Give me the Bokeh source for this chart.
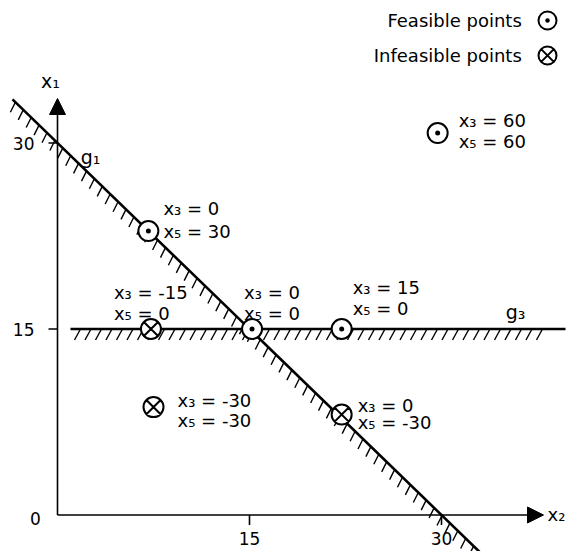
import numpy as np
from bokeh.plotting import figure
from bokeh.models import Arrow, NormalHead
from bokeh.core.properties import value
from bokeh.embed import file_html
from bokeh.resources import INLINE

# ---- data ----
feasible_x2 = [7.1, 15.2, 22.2, 29.7]
feasible_x1 = [22.9, 15.0, 15.0, 30.8]
feasible_x3 = [0, 0, 15, 60]
feasible_x5 = [30, 0, 0, 60]

infeasible_x2 = [7.3, 7.5, 22.2]
infeasible_x1 = [15.0, 8.7, 8.1]
infeasible_x3 = [-15, -30, 0]
infeasible_x5 = [0, -30, -30]

g1_rhs = 30          # x1 + x2 = 30
g3_rhs = 15          # x1 = 15
tick_values = [15, 30]
tick_labels = ["15", "30"]

# ---- layout ----
SX, SY = 12.8, 12.4   # px per unit
OX, OY = 57, 514.5    # pixel position of origin
FONT = value("DejaVu Sans")
W, H = 569, 551
x0, x1r = -OX / SX, (W - OX) / SX
y0, y1r = (OY - H) / SY, OY / SY

def px(x, y):
    """page pixel -> data coords (layout helper)"""
    return (x - OX) / SX, (OY - y) / SY

def dpx(dx, dy):
    return dx / SX, -dy / SY

p = figure(width=W, height=H, output_backend="svg", toolbar_location=None,
           x_range=(x0, x1r), y_range=(y0, y1r),
           x_axis_location=None, y_axis_location=None, min_border=0)
p.grid.visible = False
p.outline_line_color = None
p.background_fill_color = "white"

# axes with arrows
_, ytip = px(0, 98)
xtip, _ = px(543, 0)
p.add_layout(Arrow(end=NormalHead(size=16, fill_color="black", line_color="black"),
                   x_start=0, y_start=0, x_end=0, y_end=ytip, line_width=1.6))
p.add_layout(Arrow(end=NormalHead(size=16, fill_color="black", line_color="black"),
                   x_start=0, y_start=0, x_end=xtip, y_end=0, line_width=1.6))

# ticks
tdx, _ = dpx(-9, 0)
p.segment(x0=[tdx]*2, y0=tick_values, x1=[0]*2, y1=tick_values, line_color="black", line_width=1.6)
_, tdy = dpx(0, 10)
p.segment(x0=tick_values, y0=[0]*2, x1=tick_values, y1=[tdy]*2, line_color="black", line_width=1.6)

# tick labels
lx, _ = dpx(-23, 0)
p.text(x=[lx]*2, y=tick_values, text=tick_labels, text_align="right", text_baseline="middle",
       text_font=FONT, text_font_size="17px")
_, ly = dpx(0, 23)
p.text(x=tick_values, y=[ly]*2, text=tick_labels, text_align="center", text_baseline="middle",
       text_font=FONT, text_font_size="17px")
ox, oy = px(35, 518)
p.text(x=[ox], y=[oy], text=["0"], text_align="center", text_baseline="middle",
       text_font=FONT, text_font_size="17px")

# axis labels
ax, ay = px(50, 80)
p.text(x=[ax], y=[ay], text=["x₁"], text_align="center", text_baseline="middle",
       text_font=FONT, text_font_size="19px")
ax, ay = px(547, 514)
p.text(x=[ax], y=[ay], text=["x₂"], text_align="left", text_baseline="middle",
       text_font=FONT, text_font_size="18px")

# constraint g1: x1 = 30 - x2
g1_x = np.array([px(12, 0)[0], 36.0])
p.line(g1_x, g1_rhs - g1_x, line_color="black", line_width=2.6)
d = np.array([1.0 * SX, -1.0 * SY])
step_px = 11.0
L = np.hypot(*d)
t = np.arange(4, (g1_x[1] - g1_x[0]) * L + 1, step_px) / L
hx = g1_x[0] + t
hy = g1_rhs - hx
hdx, hdy = dpx(-5, 10)
p.segment(x0=hx, y0=hy, x1=hx + hdx, y1=hy + hdy, line_color="black", line_width=1.4)

# constraint g3: x1 = 15
g3_x = np.array([px(70, 0)[0], px(565, 0)[0]])
p.line(g3_x, [g3_rhs]*2, line_color="black", line_width=2.6)
h3 = np.arange(px(80, 0)[0], px(552, 0)[0], 10.5 / SX)
h3dx, h3dy = dpx(-6, 11)
p.segment(x0=h3, y0=[g3_rhs]*len(h3), x1=h3 + h3dx, y1=[g3_rhs + h3dy]*len(h3),
          line_color="black", line_width=1.4)

# constraint labels
gx, gy = px(90, 156)
p.text(x=[gx], y=[gy], text=["g₁"], text_align="center", text_baseline="middle",
       text_font=FONT, text_font_size="19px")
gx, gy = px(515, 311)
p.text(x=[gx], y=[gy], text=["g₃"], text_align="center", text_baseline="middle",
       text_font=FONT, text_font_size="19px")

# points
p.scatter(feasible_x2, feasible_x1, marker="circle_dot", size=20, line_width=2,
          line_color="black", fill_color="white")
p.scatter(infeasible_x2, infeasible_x1, marker="circle_x", size=20, line_width=2,
          line_color="black", fill_color="white")

# point labels (pixel offsets: dx, dy of x3 line, dy of x5 line)
f_off = [(15, -23, 0), (-8, -37, -16), (11, -42, -21), (21, -13, 8)]
i_off = [(-37, -37, -16), (24, -7, 13), (16, -9, 8)]

lab_x, lab_y, lab_t = [], [], []
for xs, ys, v3s, v5s, offs in [(feasible_x2, feasible_x1, feasible_x3, feasible_x5, f_off),
                               (infeasible_x2, infeasible_x1, infeasible_x3, infeasible_x5, i_off)]:
    for xx, yy, v3, v5, (dx, d3, d5) in zip(xs, ys, v3s, v5s, offs):
        lab_x += [xx + dx / SX, xx + dx / SX]
        lab_y += [yy - d3 / SY, yy - d5 / SY]
        lab_t += [f"x₃ = {v3}", f"x₅ = {v5}"]
p.text(x=lab_x, y=lab_y, text=lab_t, text_align="left", text_baseline="middle",
       text_font=FONT, text_font_size="18px")

# legend
lgx, ly1 = px(547, 20)
_, ly2 = px(547, 55)
p.scatter([lgx], [ly1], marker="circle_dot", size=18, line_width=2,
          line_color="black", fill_color="white")
p.scatter([lgx], [ly2], marker="circle_x", size=18, line_width=2,
          line_color="black", fill_color="white")
ltx, _ = px(527, 0)
p.text(x=[ltx, ltx], y=[ly1, ly2],
       text=["Feasible  points", "Infeasible  points"], text_align="right", text_baseline="middle",
       text_font=FONT, text_font_size="18px")

open("out.html", "w").write(file_html(p, INLINE))
